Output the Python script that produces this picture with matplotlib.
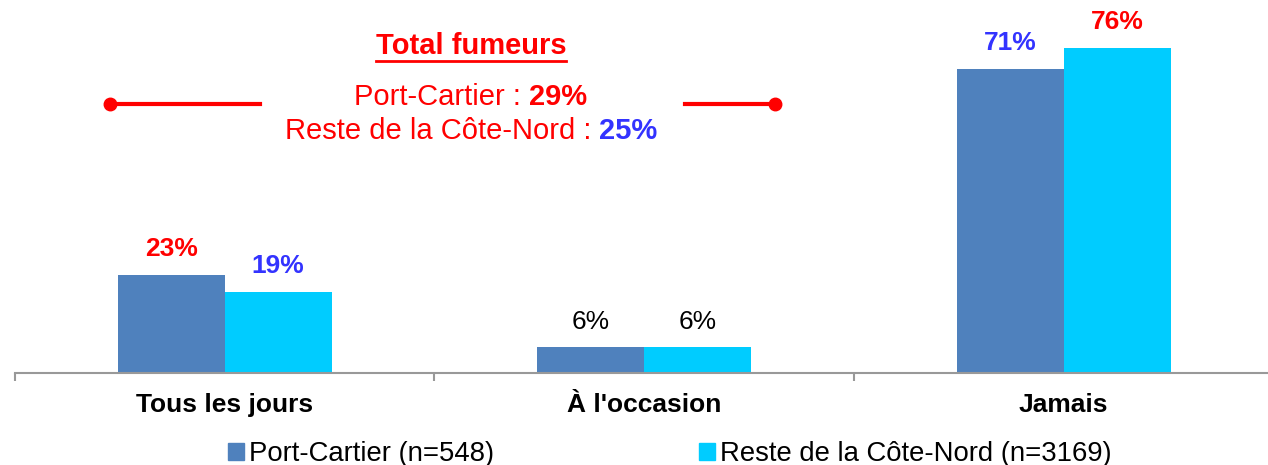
import matplotlib
matplotlib.use("Agg")
import matplotlib.pyplot as plt
from matplotlib.patches import Patch
from matplotlib.lines import Line2D
import numpy as np

plt.rcParams['font.family'] = ['Liberation Sans', 'DejaVu Sans']

# data
categories = ["Tous les jours", "À l'occasion", "Jamais"]
series_names = ["Port-Cartier (n=548)", "Reste de la Côte-Nord (n=3169)"]
port_cartier = [23, 6, 71]
reste_cote_nord = [19, 6, 76]
total_fumeurs = [29, 25]
total_labels = ["Port-Cartier : ", "Reste de la Côte-Nord : "]

# label styles (colour, weight) per bar
label_style_pc = [("#FF0000", "bold"), ("black", "normal"), ("#3333FF", "bold")]
label_style_rc = [("#3333FF", "bold"), ("black", "normal"), ("#FF0000", "bold")]

c_pc = "#4F81BD"
c_rc = "#00CCFF"
red = "#FF0000"
blue = "#3333FF"

fig = plt.figure(figsize=(12.68, 4.65), dpi=100)
W, H = 1268, 465
ax = fig.add_axes([15 / W, 92 / H, 1253 / W, 373 / H])

x = np.arange(len(categories))
w = 0.255
b1 = ax.bar(x - w / 2, port_cartier, w, color=c_pc)
b2 = ax.bar(x + w / 2, reste_cote_nord, w, color=c_rc)

ax.set_xlim(-0.5, 2.487)
ax.set_ylim(0, 87.1)

for bars, vals, styles in [(b1, port_cartier, label_style_pc), (b2, reste_cote_nord, label_style_rc)]:
    for bar, v, (col, wt) in zip(bars, vals, styles):
        ax.annotate(f"{v}%", (bar.get_x() + bar.get_width() / 2, v),
                    xytext=(0, 18.5), textcoords="offset points", ha="center", va="center",
                    fontsize=19, color=col, fontweight=wt)

for s in ["top", "right", "left"]:
    ax.spines[s].set_visible(False)
ax.spines["bottom"].set_color("#999999")
ax.spines["bottom"].set_linewidth(1.5)
ax.set_yticks([])
ax.set_xticks([-0.5, 0.5, 1.5])
ax.set_xticklabels([])
ax.tick_params(axis="x", length=6, width=1.5, color="#999999")
for xi, cat in zip(x, categories):
    ax.text(xi, -7.4, cat, ha="center", va="center", fontsize=19, fontweight="bold",
            transform=ax.transData)

# annotation box "Total fumeurs"
fig.canvas.draw()
r = fig.canvas.get_renderer()
cx = 471 / W
t = fig.text(cx, 1 - 46 / H, "Total fumeurs", ha="center", va="center", fontsize=21,
             fontweight="bold", color=red)
bb = t.get_window_extent(r)
fig.add_artist(Line2D([bb.x0 / W, bb.x1 / W], [(bb.y0 - 1) / H, (bb.y0 - 1) / H],
                      color=red, lw=2))

for i, (lab, val, vc) in enumerate(zip(total_labels, total_fumeurs, [red, blue])):
    y = 1 - (97 + 34 * i) / H
    t1 = fig.text(0, y, lab, ha="left", va="center", fontsize=21, color=red)
    t2 = fig.text(0, y, f"{val}%", ha="left", va="center", fontsize=21, color=vc,
                  fontweight="bold")
    w1 = t1.get_window_extent(r).width
    w2 = t2.get_window_extent(r).width
    x0 = cx * W - (w1 + w2) / 2
    t1.set_x(x0 / W)
    t2.set_x((x0 + w1) / W)

yl = 1 - 104 / H
fig.add_artist(Line2D([110 / W, 260 / W], [yl, yl], color=red, lw=3))
fig.add_artist(Line2D([110 / W], [yl], color=red, marker="o", markersize=9))
fig.add_artist(Line2D([685 / W, 775 / W], [yl, yl], color=red, lw=3))
fig.add_artist(Line2D([775 / W], [yl], color=red, marker="o", markersize=9))

handles = [Patch(color=c_pc), Patch(color=c_rc)]
fig.legend(handles, series_names, loc="center", bbox_to_anchor=(670 / W, 11 / H), ncol=2,
           frameon=False, fontsize=19.8, handlelength=0.58, handleheight=0.58,
           handletextpad=0.18, columnspacing=7.45)

fig.savefig("out.png", dpi=100)
